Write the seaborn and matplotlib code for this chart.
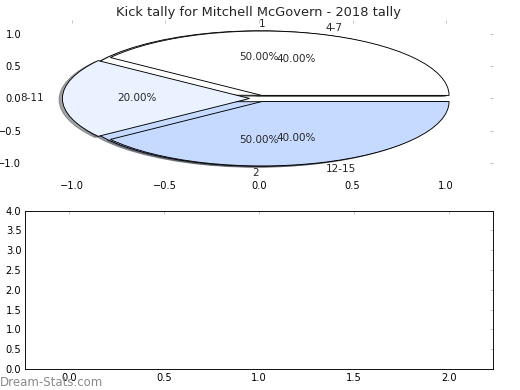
import matplotlib
matplotlib.use("Agg")
import matplotlib.pyplot as plt
import seaborn as sns

# kick tally data
round_labels = ["1", "2"]
round_share = [50, 50]
minute_labels = ["4-7", "8-11", "12-15"]
minute_share = [40, 20, 40]

sns.set_style("white", {"xtick.direction": "in", "ytick.direction": "in"})
plt.rcParams["font.family"] = ["DejaVu Sans"]
plt.rcParams["xtick.color"] = "#c0c0c0"
plt.rcParams["ytick.color"] = "#c0c0c0"
plt.rcParams["xtick.labelcolor"] = "black"
plt.rcParams["ytick.labelcolor"] = "black"

fig = plt.figure(figsize=(8, 6), dpi=65)
ax1 = fig.add_axes([0.048, 0.546, 0.9, 0.403])
ax2 = fig.add_axes([0.048, 0.054, 0.9, 0.406])

wedge_kw = {"edgecolor": "black", "linewidth": 1}
_, round_txt, _ = ax1.pie(round_share, labels=round_labels, colors=["white", "#c6daff"],
                          explode=[0.05, 0.05], autopct="%1.2f%%", shadow=True, frame=True,
                          wedgeprops=wedge_kw, textprops={"fontsize": 11.5})
ax1.pie(minute_share, labels=minute_labels, colors=["white", "#eaf1ff", "#c6daff"],
        explode=[0.05, 0.05, 0.05], autopct="%1.2f%%", shadow=True, frame=True,
        wedgeprops=wedge_kw, textprops={"fontsize": 11.5})
round_txt[0].set_horizontalalignment("left")
round_txt[1].set_horizontalalignment("right")
ax1.set_aspect("auto")
ax1.set_xlim(-1.25, 1.25)
ax1.set_ylim(-1.22, 1.22)
ax1.set_xticks([-1.0, -0.5, 0.0, 0.5, 1.0])
ax1.set_yticks([-1.0, -0.5, 0.0, 0.5, 1.0])
for s in ax1.spines.values():
    s.set_visible(False)
ax1.set_title("Kick tally for Mitchell McGovern - 2018 tally", fontsize=14.4, pad=4)

ax2.set_xlim(-0.23, 2.23)
ax2.set_ylim(0, 4)
ax2.set_yticks([0, 0.5, 1, 1.5, 2, 2.5, 3, 3.5, 4])
for s in ax2.spines.values():
    s.set_visible(True)
    s.set_color("black")
    s.set_linewidth(1)

for ax in (ax1, ax2):
    ax.tick_params(which="both", top=True, right=True, length=3, width=1,
                   labelsize=11, pad=4)

fig.text(0.0, 0.01, "Dream-Stats.com", color="#8a8a8a", fontsize=13)

fig.savefig("out.png", dpi=65)
